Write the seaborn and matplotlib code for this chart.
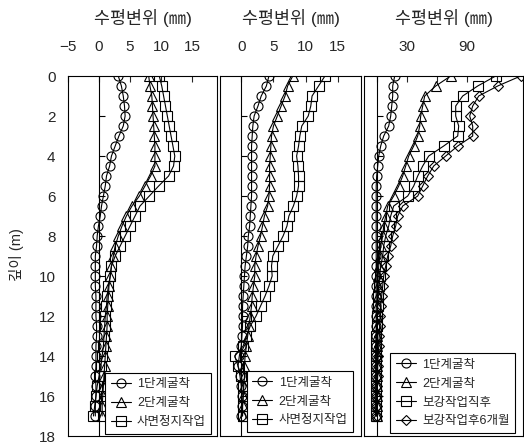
import matplotlib
matplotlib.use("Agg")
import matplotlib.pyplot as plt
from matplotlib.lines import TICKRIGHT
import pandas as pd
import seaborn as sns

# Depth of each inclinometer reading (m)
depth = [0.0, 0.5, 1.0, 1.5, 2.0, 2.5, 3.0, 3.5, 4.0, 4.5, 5.0, 5.5, 6.0, 6.5,
         7.0, 7.5, 8.0, 8.5, 9.0, 9.5, 10.0, 10.5, 11.0, 11.5, 12.0, 12.5,
         13.0, 13.5, 14.0, 14.5, 15.0, 15.5, 16.0, 16.5, 17.0]
depth_ticks = [0, 2, 4, 6, 8, 10, 12, 14, 16, 18]
zero_ticks = [2, 4, 6, 8, 10, 12, 14, 16]

# Inclinometer 1 (mm)
a_stage1 = [3.1, 3.6, 3.9, 4.1, 4.2, 3.9, 3.2, 2.6, 2.0, 1.7, 1.2, 1.0, 0.7, 0.4,
            0.2, -0.1, -0.3, -0.4, -0.6, -0.6, -0.6, -0.6, -0.5, -0.5, -0.5, -0.4,
            -0.4, -0.5, -0.5, -0.5, -0.6, -0.5, -0.5, -0.6, -0.6]
a_stage2 = [8.0, 8.2, 8.5, 8.6, 8.7, 8.8, 8.9, 9.0, 9.0, 9.0, 8.3, 7.4, 6.5, 5.3,
            4.4, 3.7, 3.1, 2.6, 2.3, 2.0, 1.8, 1.6, 1.5, 1.4, 1.3, 1.3,
            1.2, 1.1, 1.0, 0.9, 0.8, 0.7, 0.6, 0.5, 0.5]
a_slope = [9.7, 10.1, 10.4, 10.7, 11.0, 11.3, 11.6, 11.9, 12.2, 12.0, 11.2, 9.6, 8.1, 6.6,
           5.8, 5.0, 4.2, 3.4, 2.6, 2.0, 1.8, 1.5, 1.3, 1.2, 1.0, 0.9,
           0.8, 0.7, 0.5, 0.3, 0.0, -0.3, -0.5, -0.7, -0.9]

# Inclinometer 2 (mm)
b_stage1 = [4.3, 3.9, 3.1, 2.6, 2.0, 1.8, 1.7, 1.6, 1.6, 1.6, 1.6, 1.6, 1.6, 1.5,
            1.4, 1.3, 1.1, 1.0, 0.8, 0.6, 0.5, 0.4, 0.3, 0.2, 0.2, 0.2,
            0.1, 0.0, -0.3, -0.5, -0.2, 0.0, 0.1, 0.1, 0.0]
b_stage2 = [8.0, 7.2, 6.8, 6.2, 5.6, 5.0, 4.7, 4.6, 4.5, 4.4, 4.4, 4.4, 4.3, 4.1,
            3.6, 3.3, 3.0, 2.6, 2.3, 2.1, 2.1, 1.9, 1.7, 1.6, 1.4, 1.2,
            1.0, 0.8, 0.6, 0.5, 0.5, 0.4, 0.3, 0.2, 0.2]
b_slope = [13.0, 12.0, 11.0, 10.8, 10.4, 9.4, 9.1, 8.9, 8.6, 8.8, 8.9, 8.9, 8.6, 8.1,
           7.4, 7.1, 6.5, 5.7, 4.9, 4.7, 4.8, 4.3, 3.7, 3.0, 2.3, 1.4,
           0.8, 0.3, -1.0, -0.5, 0.0, 0.3, 0.3, 0.2, 0.2]

# Inclinometer 3 (mm)
c_stage1 = [18, 16, 16, 15, 14, 12, 7, 4, 2, 1, 0, -0.5, -0.5, -0.5,
            -0.5, -0.5, -0.5, -0.5, -0.5, -0.5, -0.5, -0.5, -0.5, -0.5, -0.5, -0.5,
            -0.5, -0.5, -0.5, -0.5, -0.5, -0.5, -0.5, -0.5, -0.5]
c_stage2 = [74, 59, 48, 46, 44, 43, 41, 37, 32, 29, 26, 22, 17, 11,
            9, 7, 6, 4, 3, 2, 1.5, 1, 1, 0.5, 0.5, 0.5,
            0, 0, 0, 0, 0, 0, 0, 0, 0]
c_after = [119, 101, 86, 79, 79, 82, 81, 67, 52, 46, 41, 37, 31, 17,
           14, 12, 9, 7, 6, 4, 3, 2, 1.5, 1, 0.5, 0,
           -0.5, -1, -1, -1, -1, -1, -1, -1, -1]
c_6months = [144, 121, 102, 96, 93, 96, 96, 81, 69, 57, 51, 46, 41, 26,
             21, 19, 16, 14, 11, 9, 7, 6, 5, 4, 3.5, 3,
             2.5, 2, 1.5, 1, 1, 0.5, 0.5, 0, 0]

labels_ab = ["1단계굴착", "2단계굴착", "사면정지작업"]
labels_c = ["1단계굴착", "2단계굴착", "보강작업직후", "보강작업후6개월"]
markers = ["o", "^", "s", "D"]
msizes = [6.5, 6.5, 6.5, 5.0]

sns.set_style("white")
plt.rcParams["font.family"] = ["Liberation Sans", "Noto Sans CJK KR"]
plt.rcParams["axes.edgecolor"] = "black"
plt.rcParams["axes.linewidth"] = 0.8

fig = plt.figure(figsize=(5.24, 4.43), dpi=100)
W, H = 524.0, 443.0
top_px, bot_px = 76.0, 436.0

panels = [
    dict(x0=68, x1=217, xlim=(-5, 19), xticks=[-5, 0, 5, 10, 15],
         xlabels=["−5", "0", "5", "10", "15"],
         series=[a_stage1, a_stage2, a_slope], labels=labels_ab, leg=(0.248, 0.006)),
    dict(x0=220, x1=361, xlim=(-3.3, 18.6), xticks=[0, 5, 10, 15],
         xlabels=["0", "5", "10", "15"],
         series=[b_stage1, b_stage2, b_slope], labels=labels_ab, leg=(0.19, 0.011)),
    dict(x0=364, x1=523, xlim=(-12.7, 146.3), xticks=[0, 30, 60, 90, 120],
         xlabels=["", "30", "", "90", ""],
         series=[c_stage1, c_stage2, c_after, c_6months], labels=labels_c, leg=(0.164, 0.008)),
]

axes = []
for i, p in enumerate(panels):
    ax = fig.add_axes([p["x0"] / W, 1 - bot_px / H,
                       (p["x1"] - p["x0"]) / W, (bot_px - top_px) / H])
    axes.append(ax)
    ax.axvline(0, color="black", lw=0.8, zorder=1)
    ax.plot([0] * len(zero_ticks), zero_ticks, ls="none", marker=TICKRIGHT,
            ms=4, mew=0.8, color="black", zorder=1)

    handles = []
    for vals, lab, mk, ms in zip(p["series"], p["labels"], markers, msizes):
        df = pd.DataFrame({"disp": vals, "depth": depth})
        sns.lineplot(data=df, x="disp", y="depth", ax=ax, sort=False,
                     estimator=None, orient="y", color="black", lw=0.8,
                     marker=mk, ms=ms, mfc="none", mec="black", mew=0.8,
                     legend=False, zorder=3)
        handles.append(ax.lines[-1])

    ax.set_xlim(*p["xlim"])
    ax.set_ylim(18, 0)
    ax.set_xlabel("")
    ax.set_ylabel("")
    ax.xaxis.tick_top()
    ax.set_xticks(p["xticks"])
    ax.set_xticklabels(p["xlabels"])
    ax.tick_params(axis="x", direction="in", length=4, width=0.8,
                   pad=16, labelsize=11, top=True, bottom=False)
    ax.set_yticks(depth_ticks)
    ax.tick_params(axis="y", length=0, pad=9, labelsize=11,
                   labelleft=(i == 0))
    for s in ax.spines.values():
        s.set_linewidth(0.8)

    ax.text(0.5, 1 + (top_px - 18) / (bot_px - top_px), "수평변위 (㎜)",
            transform=ax.transAxes, ha="center", va="center", fontsize=12.5)

    leg = ax.legend(handles, p["labels"], loc="lower left",
                    bbox_to_anchor=p["leg"], borderaxespad=0, frameon=True,
                    fancybox=False, edgecolor="black", framealpha=1,
                    fontsize=9, handlelength=1.6, handletextpad=0.5,
                    labelspacing=0.55, borderpad=0.45)
    leg.get_frame().set_linewidth(0.8)

axes[0].set_ylabel("깊이 (m)", fontsize=10.5)
axes[0].yaxis.set_label_coords(-(68 - 24) / 149.0, (bot_px - 255) / (bot_px - top_px))

fig.savefig("out.png", dpi=100)
